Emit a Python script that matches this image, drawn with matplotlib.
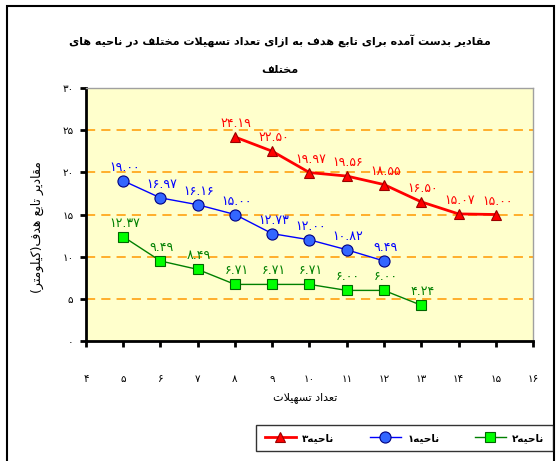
"""Objective-function values per number of facilities in three regions."""

import matplotlib

matplotlib.use("Agg")
import matplotlib.pyplot as plt
from matplotlib.patches import Rectangle

# data
x_region3 = [8, 9, 10, 11, 12, 13, 14, 15]
y_region3 = [24.19, 22.50, 19.97, 19.56, 18.55, 16.50, 15.07, 15.00]
x_region1 = [5, 6, 7, 8, 9, 10, 11, 12]
y_region1 = [19.00, 16.97, 16.16, 15.00, 12.73, 12.00, 10.82, 9.49]
x_region2 = [5, 6, 7, 8, 9, 10, 11, 12, 13]
y_region2 = [12.37, 9.49, 8.49, 6.71, 6.71, 6.71, 6.00, 6.00, 4.24]
y_ticks = [0, 5, 10, 15, 20, 25, 30]
x_ticks = list(range(4, 17))

title_lines = [
    "مقادیر بدست آمده برای تابع هدف به ازای تعداد تسهیلات مختلف در ناحیه های",
    "مختلف",
]
x_title = "تعداد تسهیلات"
y_title = "مقادیر تابع هدف(کیلومتر)"
names = ["ناحیه۳", "ناحیه۱", "ناحیه۲"]

# --- minimal Persian shaping (matplotlib has no complex text layout) ---
DUAL = set("بتثجحخسشصضطظعغفقکلمنهیپچگ")
FORMS = {  # isolated, final, initial, medial
    "ا": (0xFE8D, 0xFE8E),
    "آ": (0xFE81, 0xFE82),
    "ب": (0xFE8F, 0xFE90, 0xFE91, 0xFE92),
    "ت": (0xFE95, 0xFE96, 0xFE97, 0xFE98),
    "ح": (0xFEA1, 0xFEA2, 0xFEA3, 0xFEA4),
    "خ": (0xFEA5, 0xFEA6, 0xFEA7, 0xFEA8),
    "د": (0xFEA9, 0xFEAA),
    "ر": (0xFEAD, 0xFEAE),
    "ز": (0xFEAF, 0xFEB0),
    "س": (0xFEB1, 0xFEB2, 0xFEB3, 0xFEB4),
    "ع": (0xFEC9, 0xFECA, 0xFECB, 0xFECC),
    "ف": (0xFED1, 0xFED2, 0xFED3, 0xFED4),
    "ق": (0xFED5, 0xFED6, 0xFED7, 0xFED8),
    "ل": (0xFEDD, 0xFEDE, 0xFEDF, 0xFEE0),
    "م": (0xFEE1, 0xFEE2, 0xFEE3, 0xFEE4),
    "ن": (0xFEE5, 0xFEE6, 0xFEE7, 0xFEE8),
    "ه": (0xFEE9, 0xFEEA, 0xFEEB, 0xFEEC),
    "و": (0xFEED, 0xFEEE),
    "ی": (0xFBFC, 0xFBFD, 0xFBFE, 0xFBFF),
    "ک": (0xFB8E, 0xFB8F, 0xFB90, 0xFB91),
}
MIRROR = {"(": ")", ")": "("}


def shape(text):
    out = []
    i = 0
    while i < len(text):
        c = text[i]
        prev = text[i - 1] if i > 0 else ""
        joins_prev = prev in DUAL
        if c == "ل" and i + 1 < len(text) and text[i + 1] == "ا":
            out.append("\uFEFC" if joins_prev else "\uFEFB")
            i += 2
            continue
        if c in FORMS:
            nxt = text[i + 1] if i + 1 < len(text) else ""
            joins_next = c in DUAL and nxt in FORMS
            forms = FORMS[c]
            if joins_prev and joins_next:
                code = forms[3]
            elif joins_prev:
                code = forms[1]
            elif joins_next:
                code = forms[2]
            else:
                code = forms[0]
            out.append(chr(code))
        else:
            out.append(c)
        i += 1
    return "".join(MIRROR.get(ch, ch) for ch in reversed(out))


def fa_num(text):
    return str(text).translate(str.maketrans("0123456789", "۰۱۲۳۴۵۶۷۸۹"))


plt.rcParams["font.family"] = ["DejaVu Sans"]

fig = plt.figure(figsize=(5.59, 4.61), dpi=100)
ax = fig.add_axes([0.1538, 0.2603, 0.7997, 0.5488])
ax.set_facecolor("#FFFFCC")

series = [
    (x_region3, y_region3, "#FF0000", "^", "#FF0000", "#990000", 2.0, 7, names[0]),
    (x_region1, y_region1, "#0000FF", "o", "#3366FF", "#000080", 1.0, 8, names[1]),
    (x_region2, y_region2, "#008000", "s", "#00FF00", "#006600", 1.0, 6.5, names[2]),
]
for xs, ys, color, marker, face, edge, lw, ms, name in series:
    ax.plot(xs, ys, color=color, lw=lw, marker=marker, markersize=ms,
            markerfacecolor=face, markeredgecolor=edge, markeredgewidth=0.8,
            label=shape(name), zorder=3, clip_on=False)
    for xv, yv in zip(xs, ys):
        ax.annotate(fa_num(f"{yv:.2f}"), (xv, yv), xytext=(1, 5),
                    textcoords="offset points", ha="center", va="bottom",
                    color=color, fontsize=9, zorder=4)

ax.set_xlim(4, 16)
ax.set_ylim(0, 30)
ax.set_xticks(x_ticks)
ax.set_xticklabels([fa_num(v) for v in x_ticks])
ax.set_yticks(y_ticks)
ax.set_yticklabels([fa_num(v) for v in y_ticks])
ax.tick_params(axis="both", labelsize=7.5, length=4, width=2, color="black")
ax.tick_params(axis="x", pad=20)
ax.tick_params(axis="y", pad=5)

for y in y_ticks[1:]:
    ax.axhline(y, color="#FF9900", lw=1.1, dashes=(6, 4), zorder=1)

ax.spines["left"].set_linewidth(2)
ax.spines["bottom"].set_linewidth(2)
for side in ("top", "right"):
    ax.spines[side].set_color("#A0A0A0")
    ax.spines[side].set_linewidth(1)

ax.set_xlabel(shape(x_title), fontsize=8)
ax.xaxis.set_label_coords(0.49, -0.20)
ax.set_ylabel(shape(y_title), fontsize=9)
ax.yaxis.set_label_coords(-0.095, 0.45)

fig.text(0.5, 0.912, shape(title_lines[0]), ha="center", va="center",
         fontsize=8, fontweight="bold")
fig.text(0.5, 0.848, shape(title_lines[1]), ha="center", va="center",
         fontsize=8, fontweight="bold")

handles, labels = ax.get_legend_handles_labels()
leg = fig.legend(handles, labels, loc="center", ncol=3,
                 bbox_to_anchor=(0.7236, 0.0499), frameon=True, fancybox=False,
                 edgecolor="black", prop={"size": 7.5, "weight": "bold"},
                 handlelength=3, handletextpad=0.6, columnspacing=3.4,
                 borderpad=0.8)
leg.get_frame().set_linewidth(1)

fig.patches.append(Rectangle((7 / 559, -0.02), 547 / 559, 1.02 - 6 / 461,
                             transform=fig.transFigure, fill=False,
                             edgecolor="black", lw=1.5))

fig.savefig("out.png", dpi=100)
